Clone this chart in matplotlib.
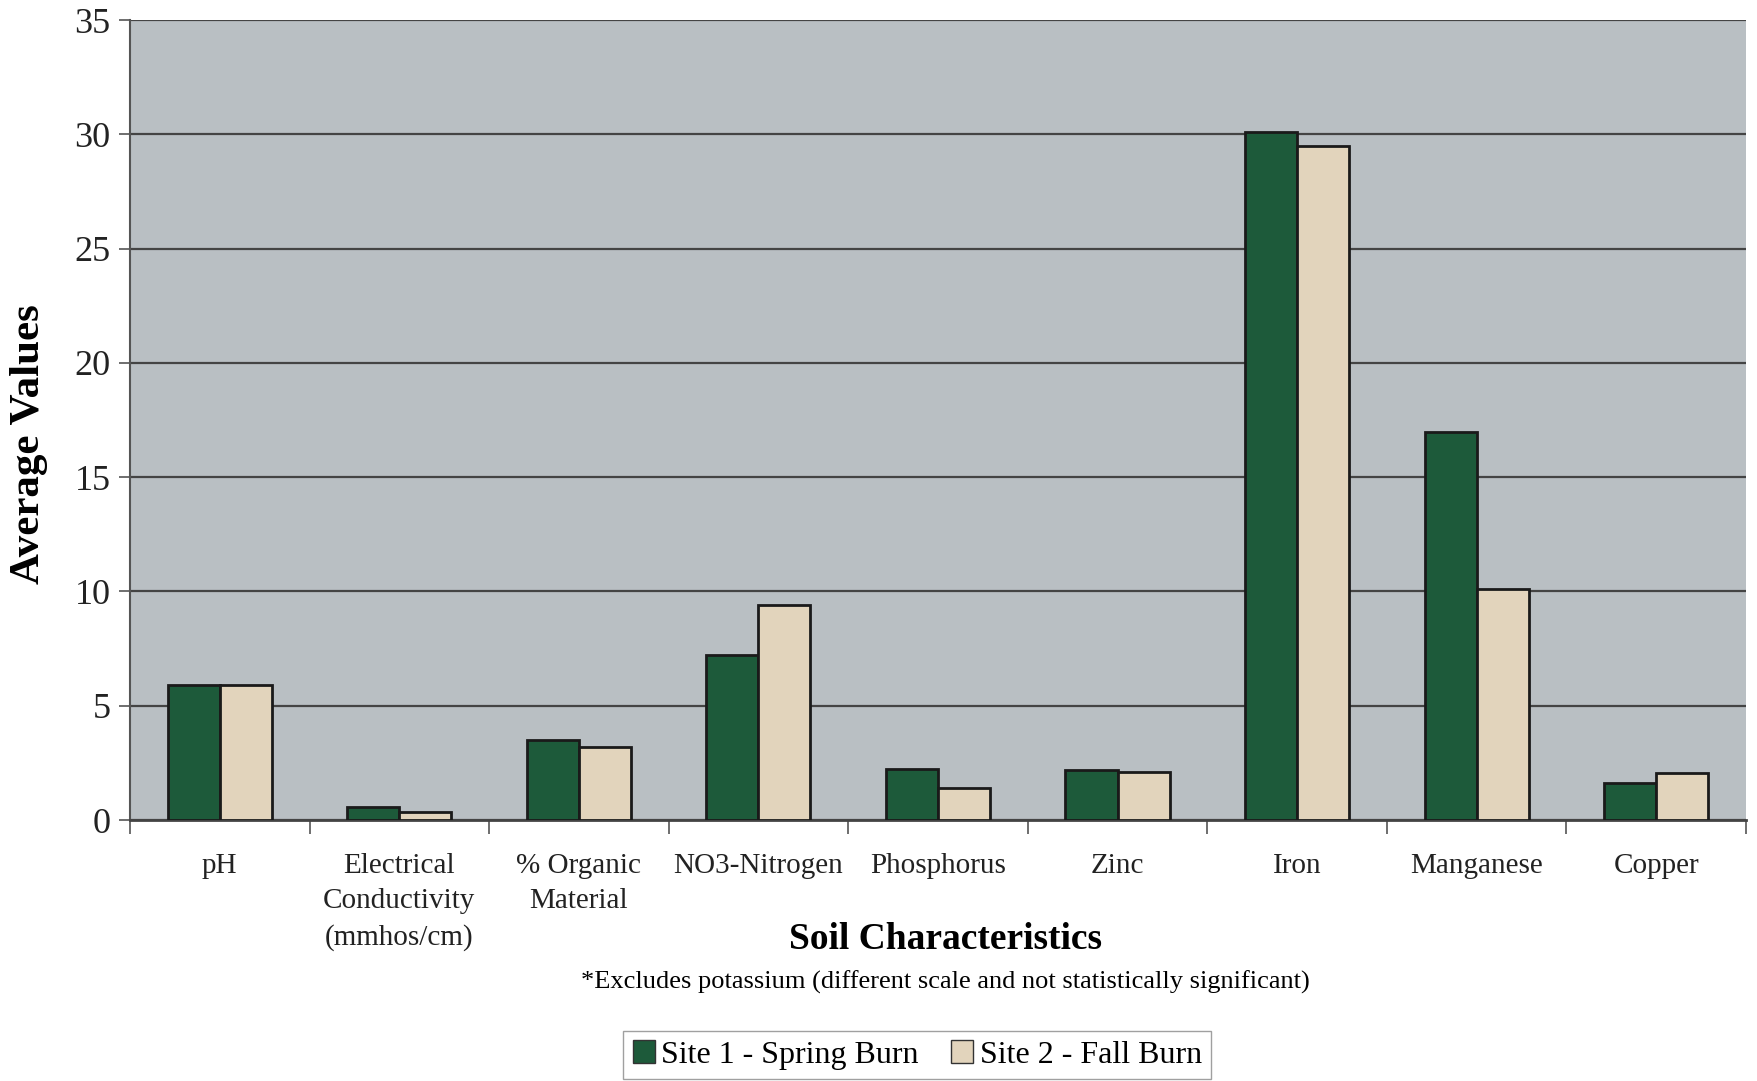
import numpy as np
import matplotlib.pyplot as plt
from matplotlib.patches import Patch

# Datos
categorias = ["pH", "Electrical\nConductivity\n(mmhos/cm)", "% Organic\nMaterial",
              "NO3-Nitrogen", "Phosphorus", "Zinc", "Iron", "Manganese", "Copper"]
sitio1 = [5.9, 0.55, 3.5, 7.2, 2.25, 2.2, 30.1, 17.0, 1.6]
sitio2 = [5.9, 0.35, 3.2, 9.4, 1.4, 2.1, 29.5, 10.1, 2.05]
series = ["Site 1 - Spring Burn", "Site 2 - Fall Burn"]

verde = "#1d5a3a"
beige = "#e2d4bc"
fondo = "#b9bfc3"

plt.rcParams['font.family'] = ['Liberation Serif', 'DejaVu Serif']

fig = plt.figure(figsize=(17.57, 10.81), dpi=100)
ax = fig.add_axes([0.074, 0.2414, 0.9197, 0.74])
ax.set_facecolor(fondo)

x = np.arange(len(categorias))
ancho = 0.29
ax.bar(x - ancho / 2, sitio1, ancho, color=verde, edgecolor="#1a1a1a", linewidth=2, zorder=3)
ax.bar(x + ancho / 2, sitio2, ancho, color=beige, edgecolor="#1a1a1a", linewidth=2, zorder=3)

# Ejes y rejilla
ax.set_xlim(-0.5, len(categorias) - 0.5)
ax.set_ylim(0, 35)
ax.set_yticks(range(0, 36, 5))
ax.yaxis.grid(True, color="#444444", linewidth=1.6, zorder=1)
ax.set_axisbelow(True)
for lado in ["top", "right"]:
    ax.spines[lado].set_visible(False)
ax.spines["left"].set_color("#555555")
ax.spines["bottom"].set_color("#444444")
ax.spines["left"].set_linewidth(1.5)
ax.spines["bottom"].set_linewidth(2)

ax.set_xticks(np.arange(-0.5, len(categorias), 1))
ax.set_xticklabels([])
ax.tick_params(axis="x", length=10, color="#555555", width=1.2)
ax.tick_params(axis="y", length=8, color="#555555", width=1.2, labelsize=26, pad=6,
               labelcolor="#222222")
ax.set_xticks(x, minor=True)
ax.set_xticklabels(categorias, minor=True, fontsize=21, linespacing=1.45, color="#222222")
ax.tick_params(axis="x", which="minor", length=0, pad=24)

ax.set_ylabel("Average Values", fontsize=31, fontweight="bold")
ax.yaxis.set_label_coords(-0.051, 0.47)

fig.text(0.538, 0.131, "Soil Characteristics", fontsize=27, fontweight="bold",
         ha="center", va="center")
fig.text(0.538, 0.091, "*Excludes potassium (different scale and not statistically significant)",
         fontsize=19, ha="center", va="center")

# Leyenda
manijas = [Patch(facecolor=verde, edgecolor="#333333", label=series[0]),
           Patch(facecolor=beige, edgecolor="#333333", label=series[1])]
fig.legend(handles=manijas, loc="center", bbox_to_anchor=(0.522, 0.024), ncol=2,
           fontsize=23, frameon=True, fancybox=False, edgecolor="#888888",
           handlelength=0.7, handleheight=0.7, handletextpad=0.2, columnspacing=1.0,
           borderpad=0.3)

plt.savefig("out.png", dpi=100)
